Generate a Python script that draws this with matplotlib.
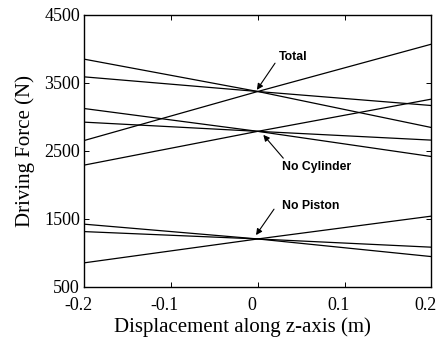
import matplotlib
matplotlib.use("Agg")
import matplotlib.pyplot as plt
from matplotlib.transforms import ScaledTranslation

# displacement samples (m)
disp = [-0.2, 0.0, 0.2]

# driving force (N) for each configuration, three force components each
total_1 = [3845, 3370, 2841]
total_2 = [3585, 3370, 3164]
total_3 = [2650, 3370, 4065]

nocyl_1 = [3120, 2785, 2415]
nocyl_2 = [2920, 2785, 2656]
nocyl_3 = [2289, 2785, 3258]

nopis_1 = [1422, 1205, 946]
nopis_2 = [1313, 1205, 1084]
nopis_3 = [854, 1205, 1540]

xticks = [-0.2, -0.1, 0, 0.1, 0.2]
xticklabels = ["-0.2", "-0.1", "0", "0.1", "0.2"]
yticks = [500, 1500, 2500, 3500, 4500]

serif = "Liberation Serif"

fig = plt.figure(figsize=(4.38, 3.38), dpi=100)
ax = fig.add_axes([0.192, 0.151, 0.793, 0.806])

for f in [total_1, total_2, total_3, nocyl_1, nocyl_2, nocyl_3,
          nopis_1, nopis_2, nopis_3]:
	ax.plot(disp, f, color="k", lw=0.9)

ax.set_xlim(-0.2, 0.2)
ax.set_ylim(500, 4500)
ax.set_xticks(xticks)
ax.set_xticklabels(xticklabels, family=serif, fontsize=13)
ax.set_yticks(yticks)
ax.set_yticklabels([str(v) for v in yticks], family=serif, fontsize=13)
ax.tick_params(direction="in", top=True, right=True, length=3.5, width=0.7)
ax.tick_params(axis="x", pad=7)
ax.tick_params(axis="y", pad=3)
for s in ax.spines.values():
	s.set_linewidth(1.0)

# nudge x tick labels a little to the left so the last one stays inside
shift = ScaledTranslation(-0.06, 0, fig.dpi_scale_trans)
for t in ax.get_xticklabels():
	t.set_transform(t.get_transform() + shift)

ax.set_xlabel("Displacement along z-axis (m)", family=serif, fontsize=15)
ax.xaxis.set_label_coords(0.455, -0.11)
ax.set_ylabel("Driving Force (N)", family=serif, fontsize=15)
ax.yaxis.set_label_coords(-0.14, 0.5)

# labels with arrows pointing at the crossing points
arrow = dict(arrowstyle="-|>", color="k", lw=0.8, mutation_scale=9, shrinkA=0, shrinkB=0)
lab = dict(family="Liberation Sans", fontweight="bold", fontsize=8.8, va="center", ha="left")

ax.text(0.0248, 3876, "Total", **lab)
ax.annotate("", xy=(-0.001, 3394), xytext=(0.0199, 3786), arrowprops=arrow)

ax.text(0.0283, 2259, "No Cylinder", **lab)
ax.annotate("", xy=(0.0064, 2733), xytext=(0.0294, 2391), arrowprops=arrow)

ax.text(0.0276, 1695, "No Piston", **lab)
ax.annotate("", xy=(-0.002, 1262), xytext=(0.0187, 1642), arrowprops=arrow)

fig.savefig("out.png", dpi=100)
